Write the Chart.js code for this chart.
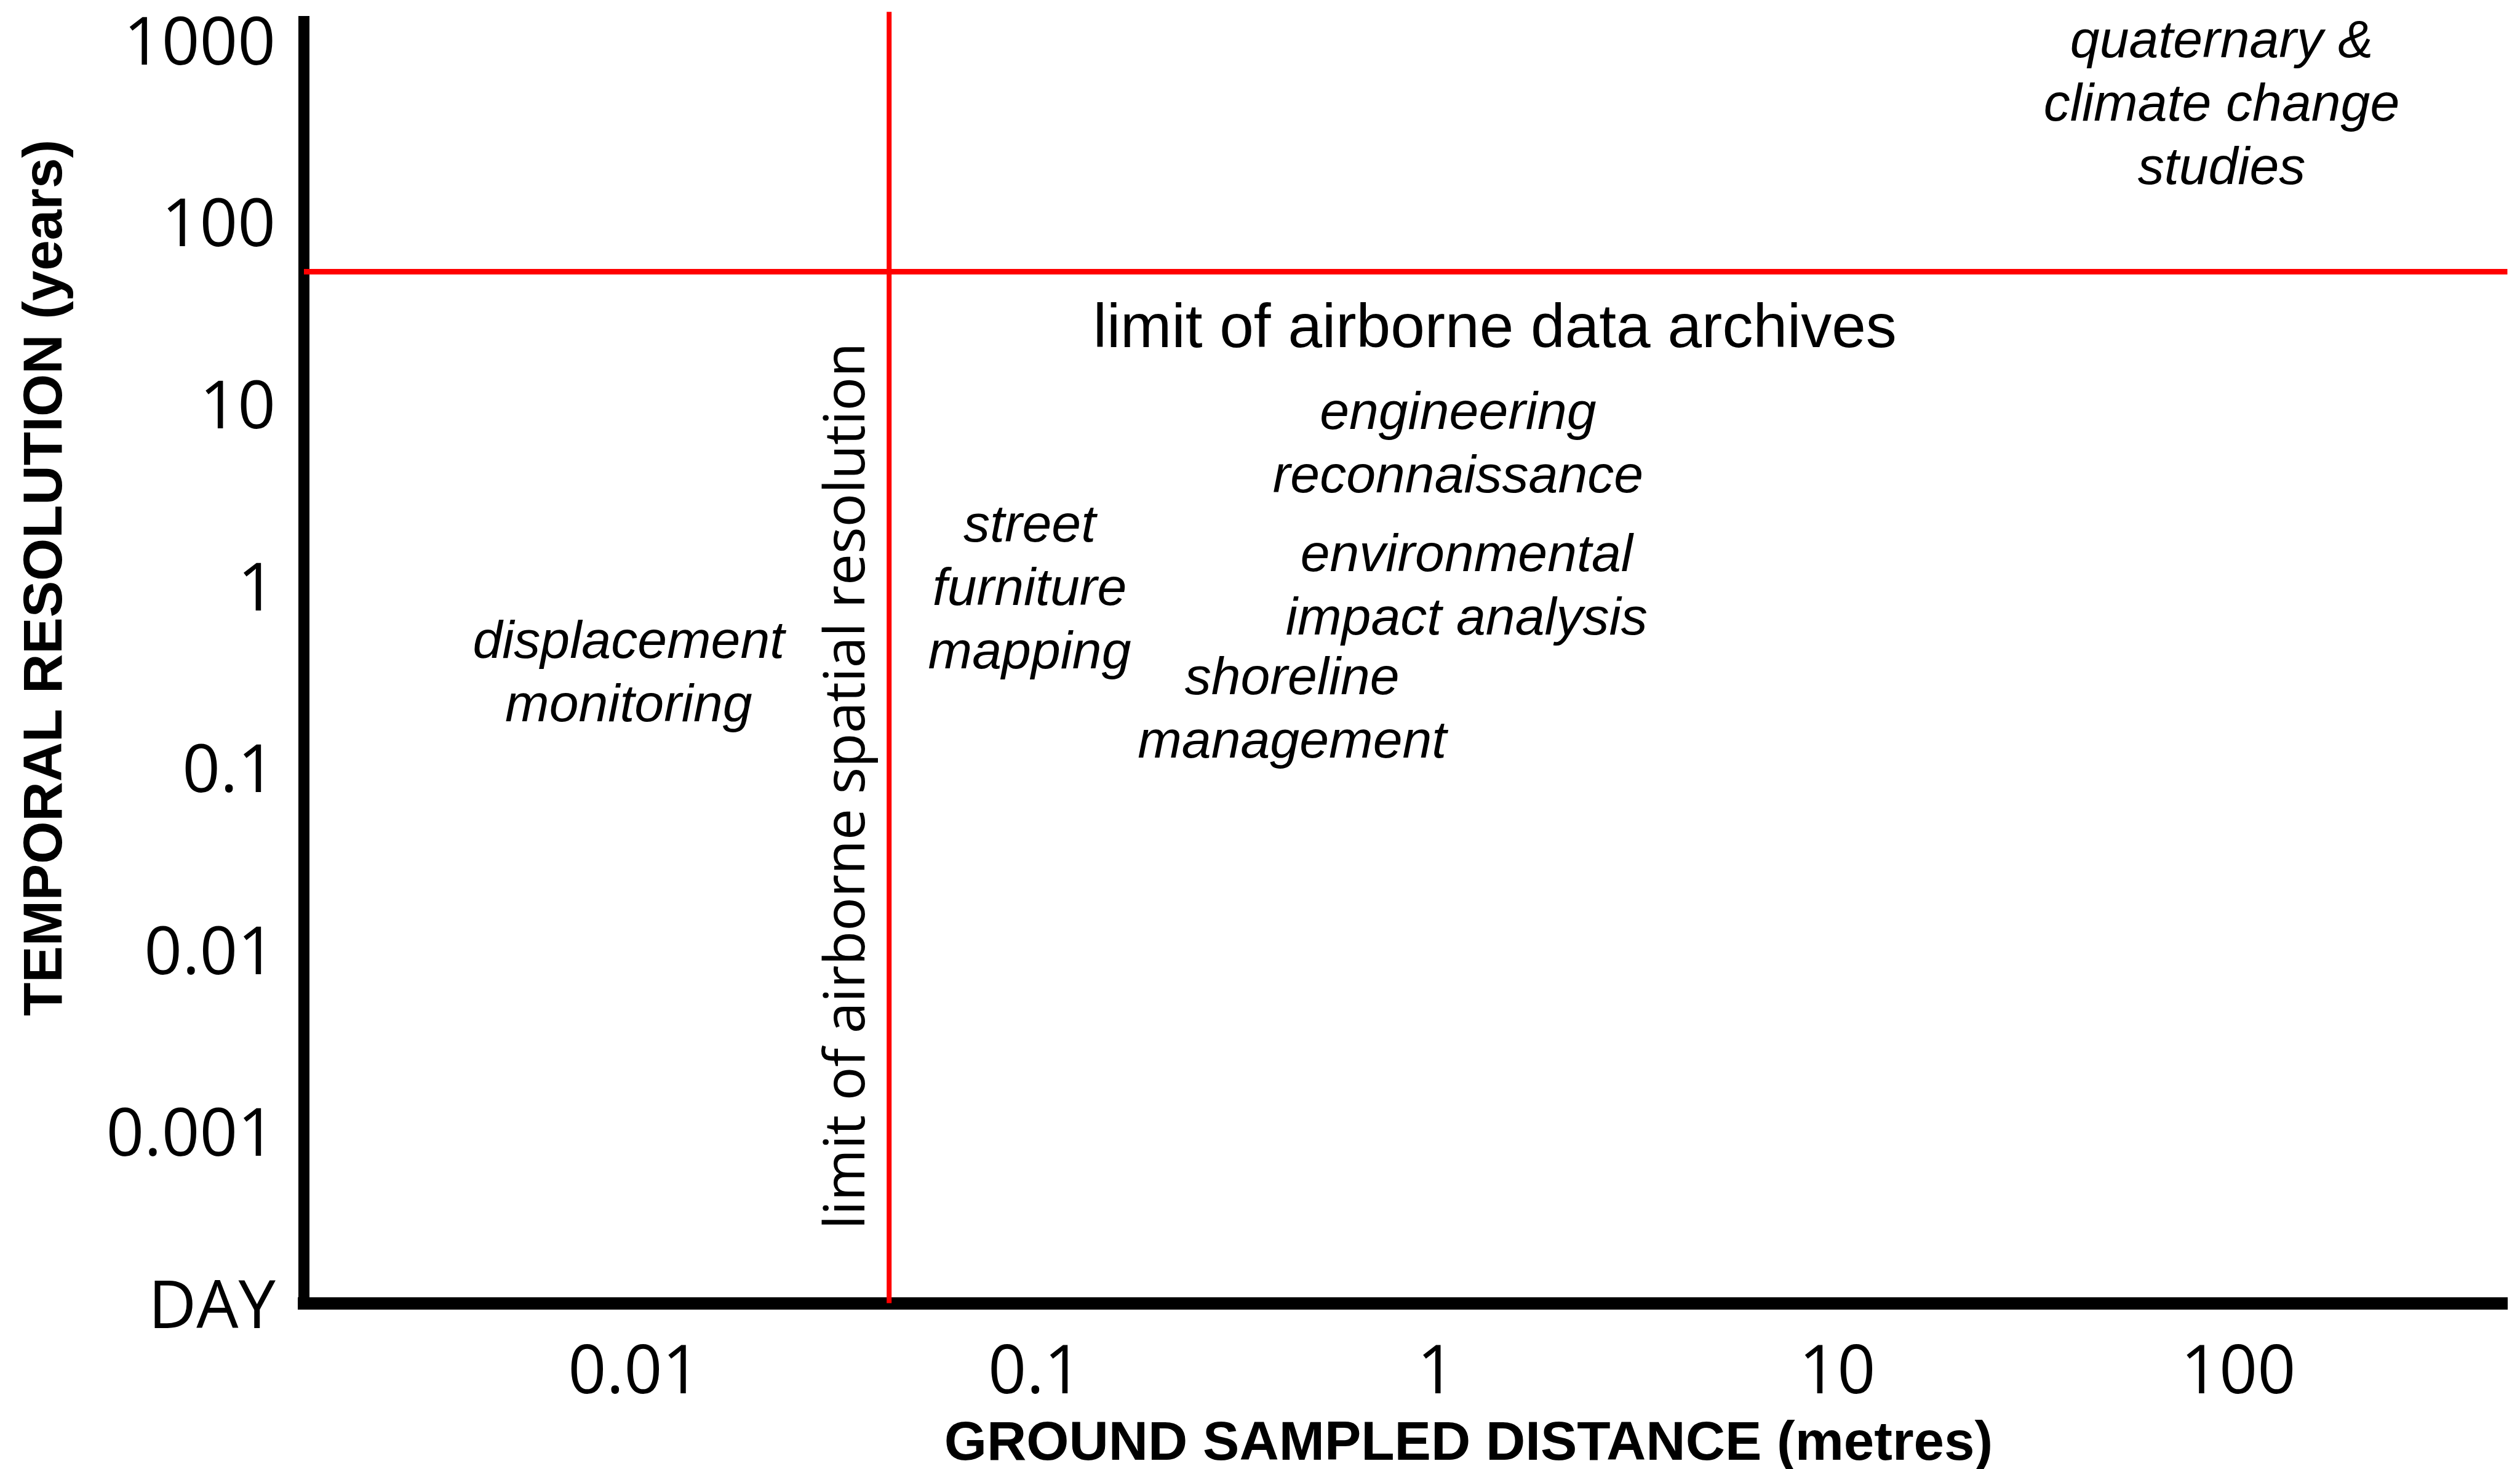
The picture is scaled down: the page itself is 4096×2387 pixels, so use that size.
<!DOCTYPE html>
<html>
<head>
<meta charset="utf-8">
<script src="https://cdn.jsdelivr.net/npm/chart.js@4.4.1/dist/chart.umd.min.js"></script>
<style>
  html, body { margin: 0; padding: 0; background: #fff; }
  canvas { display: block; }
</style>
</head>
<body>
<canvas id="gsdChart" width="4096" height="2387"></canvas>
<script>
// log axes: ground sampled distance (m) and temporal resolution (years)
const xTickValues = [0.01, 0.1, 1, 10, 100];
const xTickLabels = ['0.01', '0.1', '1', '10', '100'];
const yTickValues = [1000, 100, 10, 1, 0.1, 0.01, 0.001, 0.000113];
const yTickLabels = ['1000', '100', '10', '1', '0.1', '0.01', '0.001', 'DAY'];
const xRange = [0.0015, 469];
const yRange = [0.000113, 1259];

// limits (red lines)
const spatialLimit = 0.0432;     // metres
const spatialLimitTop = 1418;    // years, line runs slightly above the axis
const archiveLimit = 52.9;       // years

// application areas: text lines, x (m), y of first line (years)
const appLabels = [
  ['quaternary &', 'climate change', 'studies'],
  ['engineering', 'reconnaissance'],
  ['environmental', 'impact analysis'],
  ['street', 'furniture', 'mapping'],
  ['shoreline', 'management'],
  ['displacement', 'monitoring']
];
const appX = [90.9, 1.133, 1.19, 0.0968, 0.437, 0.00968];
const appY = [796, 7.22, 1.196, 1.737, 0.2515, 0.3996];

const archiveText = 'limit of airborne data archives';
const archiveTextAt = [1.40, 20.35];
const spatialText = 'limit of airborne spatial resolution';
const spatialTextAt = [0.0375, 0.0787];

const xTitle = 'GROUND SAMPLED DISTANCE (metres)';
const yTitle = 'TEMPORAL RESOLUTION (years)';

const textPlugin = {
    id: 'gsdText',
    afterDatasetsDraw(chart) {
        const ctx = chart.ctx;
        const x = chart.scales.x, y = chart.scales.y;
        ctx.save();
        ctx.fillStyle = '#000';
        ctx.textAlign = 'center';
        ctx.textBaseline = 'alphabetic';

        ctx.font = 'italic 86px "Liberation Sans", Arial, sans-serif';
        appLabels.forEach(function(lines, i) {
            const px = x.getPixelForValue(appX[i]);
            const py = y.getPixelForValue(appY[i]);
            lines.forEach(function(t, j) { ctx.fillText(t, px, py + j * 103); });
        });

        ctx.font = '100px "Liberation Sans", Arial, sans-serif';
        ctx.fillText(archiveText, x.getPixelForValue(archiveTextAt[0]), y.getPixelForValue(archiveTextAt[1]));

        ctx.save();
        ctx.translate(x.getPixelForValue(spatialTextAt[0]), y.getPixelForValue(spatialTextAt[1]));
        ctx.rotate(-Math.PI / 2);
        ctx.font = '91px "Open Sans", sans-serif';
        ctx.fillText(spatialText, 0, 0);
        ctx.restore();

        // axis titles
        ctx.font = 'bold 89px "Liberation Sans", Arial, sans-serif';
        ctx.fillText(xTitle, 2387, 2372);
        ctx.translate(99.6, 939);
        ctx.rotate(-Math.PI / 2);
        ctx.fillText(yTitle, 0, 0);
        ctx.restore();
    }
};

new Chart(document.getElementById('gsdChart').getContext('2d'), {
    type: 'scatter',
    data: {
        datasets: [{
            data: [{ x: spatialLimit, y: yRange[0] }, { x: spatialLimit, y: spatialLimitTop }],
            showLine: true,
            borderColor: '#ff0000',
            borderWidth: 8,
            pointRadius: 0,
            clip: false
        }, {
            data: [{ x: xRange[0], y: archiveLimit }, { x: xRange[1], y: archiveLimit }],
            showLine: true,
            borderColor: '#ff0000',
            borderWidth: 9,
            pointRadius: 0,
            clip: false
        }]
    },
    options: {
        responsive: false,
        animation: false,
        devicePixelRatio: 1,
        layout: { padding: { top: 34.5, right: 20.5, left: 0, bottom: 0 } },
        plugins: { legend: { display: false }, tooltip: { enabled: false } },
        scales: {
            x: {
                type: 'logarithmic',
                min: xRange[0],
                max: xRange[1],
                z: 1,
                grid: { display: false, drawTicks: false },
                border: { display: true, color: '#000', width: 20 },
                ticks: {
                    font: { family: '"Open Sans", sans-serif', size: 109, lineHeight: 1 },
                    color: '#000',
                    padding: 61,
                    autoSkip: false,
                    maxRotation: 0,
                    callback: function(v, i) { return xTickLabels[i]; }
                },
                afterBuildTicks: function(scale) {
                    scale.ticks = xTickValues.map(function(v) { return { value: v }; });
                },
                afterFit: function(scale) {
                    scale.height = 269.4;
                    scale.paddingLeft = 0;
                    scale.paddingRight = 0;
                }
            },
            y: {
                type: 'logarithmic',
                min: yRange[0],
                max: yRange[1],
                z: 1,
                grid: { display: false, drawTicks: false },
                border: { display: true, color: '#000', width: 18 },
                ticks: {
                    // two-line label with an empty first line nudges the text down a little
                    font: { family: '"Open Sans", sans-serif', size: 108, lineHeight: '20px' },
                    color: '#000',
                    padding: 46,
                    autoSkip: false,
                    callback: function(v, i) { return ['', yTickLabels[i]]; }
                },
                afterBuildTicks: function(scale) {
                    scale.ticks = yTickValues.map(function(v) { return { value: v }; });
                },
                afterFit: function(scale) {
                    scale.width = 494;
                    scale.paddingTop = 0;
                    scale.paddingBottom = 0;
                }
            }
        }
    },
    plugins: [textPlugin]
});
</script>
</body>
</html>
